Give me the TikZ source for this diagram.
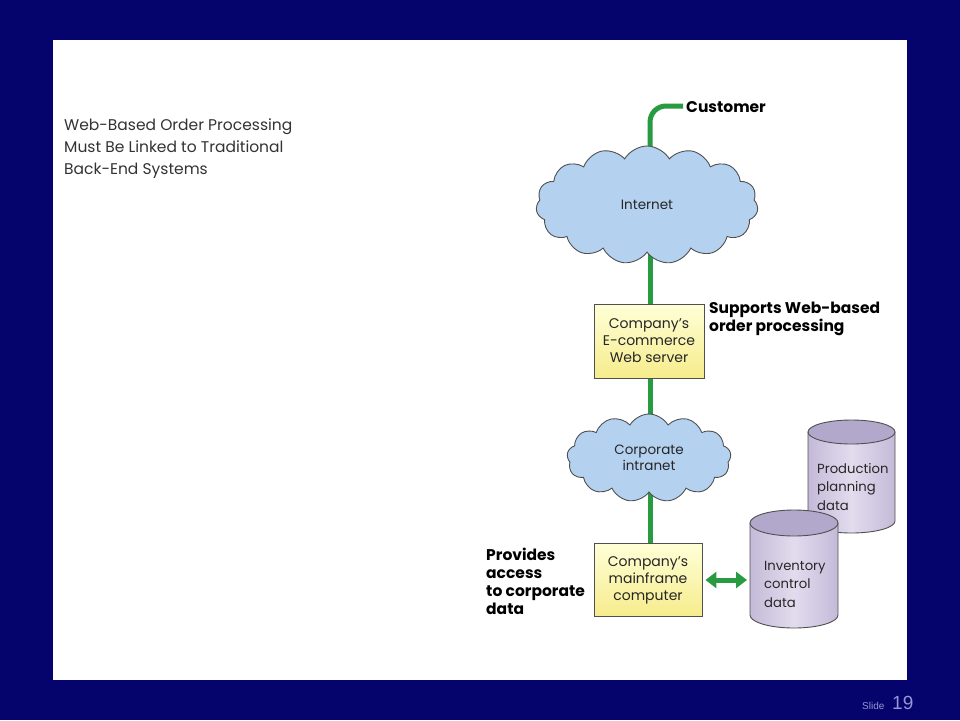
\documentclass[tikz,border=0pt]{standalone}
\usepackage{fontspec}
\setmainfont{Poppins}
\newfontfamily\arialfont{Liberation Sans}
\usetikzlibrary{shapes.symbols,arrows.meta}
\pgfdeclarelayer{linklayer}
\pgfsetlayers{linklayer,main}
\definecolor{navy}{RGB}{4,4,108}
\definecolor{netgreen}{RGB}{40,155,65}
\definecolor{cloudblue}{RGB}{180,210,240}
\definecolor{edgegray}{RGB}{80,80,80}
\definecolor{boxtop}{RGB}{255,255,215}
\definecolor{boxbot}{RGB}{246,236,140}
\definecolor{cylside}{RGB}{196,186,216}
\definecolor{cyllight}{RGB}{226,220,238}
\definecolor{cyltop}{RGB}{178,168,204}
\definecolor{slidegray}{RGB}{150,150,210}
\tikzset{
  link/.style={draw=netgreen, line width=5pt},
  cloudnode/.style={cloud, cloud puffs=15, cloud puff arc=120, draw=edgegray, line width=0.9pt,
    fill=cloudblue, font=\fontsize{13.5}{16}\selectfont, align=center, text=black!85},
  boxnode/.style={draw=edgegray, line width=0.9pt, top color=boxtop, bottom color=boxbot,
    font=\fontsize{14}{17}\selectfont, align=center, inner sep=0pt, text=black!85},
  boldlabel/.style={font=\bfseries\fontsize{15.5}{18}\selectfont, align=left, inner sep=0pt, text=black},
  cyltext/.style={font=\fontsize{13.2}{18.5}\selectfont, align=left, inner sep=0pt, text=black!85},
  cylbody/.style={draw=edgegray, line width=0.9pt, left color=cylside, right color=cylside, middle color=cyllight},
  cyllid/.style={draw=edgegray, line width=0.9pt, fill=cyltop},
}
\begin{document}
\begin{tikzpicture}[x=1pt,y=-1pt]
\useasboundingbox (0,0) rectangle (960,720);
\begin{pgfonlayer}{linklayer}
\fill[navy] (0,0) rectangle (960,720);
\fill[white] (53,40) rectangle (907,680);
\end{pgfonlayer}

% title
\node[anchor=north west, align=left, inner sep=0pt, font=\fontsize{15.5}{22}\selectfont, text=black!80] (title) at (64,119)
  {Web-Based Order Processing\\Must Be Linked to Traditional\\Back-End Systems};

% clouds and boxes
\node[cloudnode, minimum width=222pt, minimum height=118pt, aspect=1.9] (inet) at (647,205) {\raisebox{-4pt}{Internet}};
\node[boxnode, minimum width=110pt, minimum height=74pt] (web) at (649,341) {Company’s\\E-commerce\\Web server};
\node[cloudnode, minimum width=164pt, minimum height=88pt, cloud puffs=13, aspect=1.85] (intra) at (649,458) {Corporate\\intranet};
\node[boxnode, minimum width=108pt, minimum height=73pt] (main) at (648,580) {Company’s\\mainframe\\computer};

% connectors
\coordinate (custend) at (683,106);
\begin{pgfonlayer}{linklayer}
\draw[link, rounded corners=16pt] (650,170) -- (650,106) -- (custend);
\draw[link] (650,250) -- (650,310);
\draw[link] (650,370) -- (650,425);
\draw[link] (650,490) -- (650,550);
\end{pgfonlayer}

% labels
\node[boldlabel, anchor=west] (cust) at (686,107) {Customer};
\node[boldlabel, anchor=north west] (supp) at (709,302) {Supports Web-based\\order processing};
\node[boldlabel, anchor=north west] (prov) at (486,548) {Provides\\access\\to corporate\\data};

% production cylinder
\path[cylbody] (808,432) -- (808,521) arc[start angle=180, end angle=0, x radius=43.5, y radius=12] -- (895,432) -- cycle;
\draw[cyllid] (851.5,432) ellipse[x radius=43.5, y radius=12];
\node[cyltext, anchor=north west] (prod) at (817,463) {Production\\planning\\data};

% inventory cylinder
\path[cylbody] (750,523) -- (750,615) arc[start angle=180, end angle=0, x radius=44, y radius=13] -- (838,523) -- cycle;
\draw[cyllid] (794,523) ellipse[x radius=44, y radius=13];
\node[cyltext, anchor=north west] (inv) at (764,561) {Inventory\\control\\data};
\coordinate (invleft) at (747,580);

% double arrow
\coordinate (mainr) at ([xshift=3pt]main.east);
\draw[link, {Triangle[width=16pt,length=11pt]}-{Triangle[width=16pt,length=11pt]}] (mainr) -- (invleft);

% slide number
\node[anchor=base west, inner sep=0pt, text=slidegray, font=\arialfont\fontsize{10}{12}\selectfont] (slw) at (862,709) {Slide};
\node[anchor=base west, inner sep=0pt, text=slidegray, font=\arialfont\fontsize{19}{22}\selectfont] (sln) at (892,709) {19};
\end{tikzpicture}
\end{document}
